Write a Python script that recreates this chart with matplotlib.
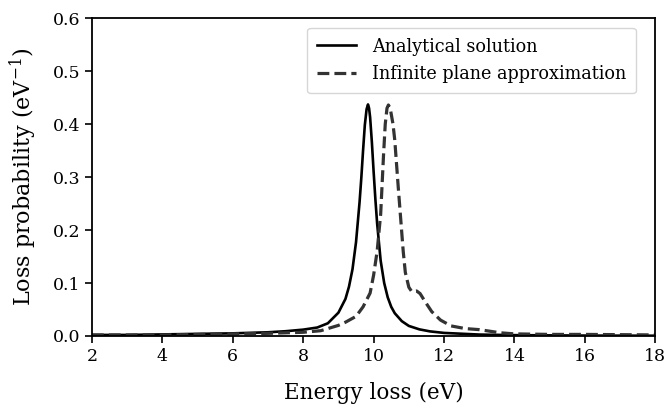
import numpy as np
import matplotlib
matplotlib.use("Agg")
import matplotlib.pyplot as plt

plt.rcParams['font.family'] = ['DejaVu Serif']
plt.rcParams['mathtext.fontset'] = 'dejavuserif'

# analytical solution
x_analytic = [2.0, 3.0, 4.0, 5.0, 6.0, 6.5, 7.0, 7.5, 8.0, 8.4, 8.7, 9.0, 9.2, 9.3,
              9.4, 9.5, 9.6, 9.65, 9.7, 9.75, 9.8, 9.84, 9.87, 9.9, 9.95, 10.0, 10.05,
              10.1, 10.2, 10.3, 10.4, 10.5, 10.6, 10.8, 11.0, 11.3, 11.6, 12.0, 13.0,
              14.0, 16.0, 18.0]
y_analytic = [0.002, 0.002, 0.003, 0.004, 0.005, 0.006, 0.007, 0.009, 0.012, 0.016,
              0.024, 0.044, 0.070, 0.093, 0.126, 0.177, 0.252, 0.298, 0.350, 0.398,
              0.428, 0.437, 0.430, 0.413, 0.366, 0.310, 0.258, 0.212, 0.142, 0.100,
              0.073, 0.055, 0.043, 0.028, 0.019, 0.0125, 0.0087, 0.0058, 0.0027,
              0.0016, 0.0008, 0.0005]

# infinite plane approximation
x_plane = [2.0, 3.0, 4.0, 5.0, 6.0, 7.0, 7.5, 8.0, 8.5, 9.0, 9.2, 9.5, 9.7, 9.9,
           10.0, 10.1, 10.2, 10.28, 10.33, 10.38, 10.42, 10.47, 10.55, 10.6, 10.7,
           10.77, 10.84, 10.9, 11.0, 11.08, 11.22, 11.32, 11.46, 11.65, 11.9, 12.2,
           12.6, 13.0, 13.3, 13.6, 14.0, 15.0, 16.0, 18.0]
y_plane = [0.002, 0.002, 0.002, 0.003, 0.004, 0.005, 0.006, 0.007, 0.010, 0.020,
           0.026, 0.037, 0.055, 0.081, 0.115, 0.160, 0.230, 0.340, 0.400, 0.430,
           0.436, 0.430, 0.400, 0.370, 0.280, 0.220, 0.160, 0.120, 0.092, 0.084,
           0.085, 0.080, 0.065, 0.046, 0.030, 0.019, 0.014, 0.012, 0.009, 0.006,
           0.004, 0.003, 0.003, 0.002]

fig = plt.figure(figsize=(6.66, 4.11), dpi=100)
ax = fig.add_axes([0.138, 0.1825, 0.846, 0.7735])

ax.plot(x_analytic, y_analytic, color='black', lw=1.9, label='Analytical solution')
ax.plot(x_plane, y_plane, color='#333333', lw=2.3, ls='--', label='Infinite plane approximation')

ax.set_xlim(2, 18)
ax.set_ylim(0, 0.6)
ax.set_xticks(np.arange(2, 19, 2))
ax.set_yticks(np.arange(0, 0.61, 0.1))
ax.tick_params(direction='out', length=5, width=1.2, labelsize=12.5, top=False, right=False)
for s in ax.spines.values():
    s.set_linewidth(1.3)

ax.set_xlabel('Energy loss (eV)', fontsize=15.5, labelpad=12)
ax.set_ylabel(r'Loss probability (eV$^{-1}$)', fontsize=16, labelpad=10)
ax.legend(loc='upper right', bbox_to_anchor=(0.965, 0.969), borderaxespad=0,
          fontsize=12.7, handlelength=2.2, handletextpad=0.9, borderpad=0.55,
          labelspacing=0.55)

fig.savefig('out.png', dpi=100)
